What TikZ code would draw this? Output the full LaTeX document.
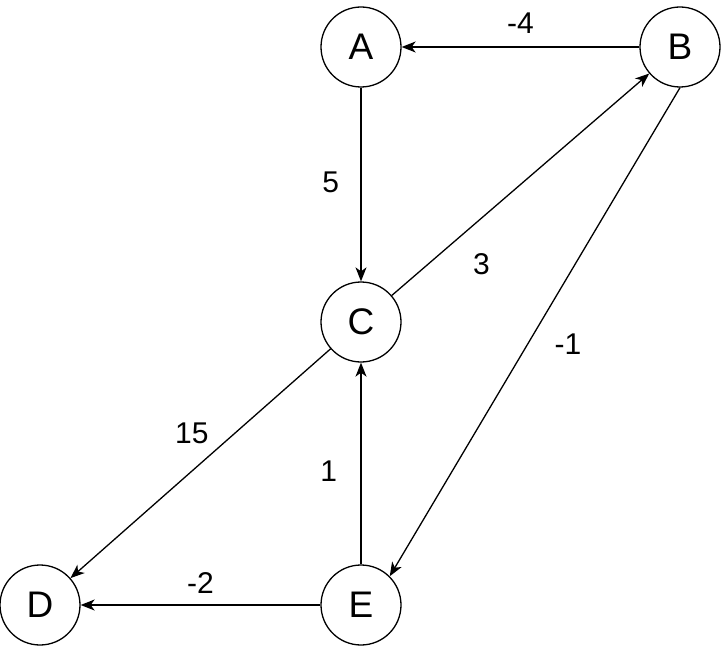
\documentclass[tikz,border=0pt]{standalone}
\usepackage{fontspec}
\setmainfont{Liberation Sans}
\usetikzlibrary{arrows.meta,positioning}
\begin{document}
\begin{tikzpicture}[x=1pt,y=-1pt,line width=1.3pt,line join=round,>={Stealth[length=14pt,width=11pt,inset=4pt]},
	vertex/.style={draw,circle,minimum size=80pt,inner sep=0pt,font=\fontsize{37}{39}\selectfont},
	weight/.style={font=\fontsize{30}{32}\selectfont}]
	\useasboundingbox (0,0) rectangle (722,647);
	
	\node[vertex] (A) at (361,47) {A};
	\node[vertex] (B) at (680,47) {B};
	\node[vertex] (C) at (361,322) {C};
	\node[vertex] (D) at (40,605) {D};
	\node[vertex] (E) at (361,605) {E};
	
	\draw[->] (B) -- node[weight,above=10pt] {-4} (A);
	\draw[->] (A) -- node[weight,left=18pt,pos=0.49] {5} (C);
	\draw[->] (C) -- node[weight,below right=10pt and 13pt,pos=0.25] {3} (B);
	\draw[->] (B.south) -- node[weight,right=23pt,pos=0.525] {-1} (E.45);
	\draw[->] (C) -- node[weight,above left=4pt and 1pt,pos=0.45] {15} (D);
	\draw[->] (E) -- node[weight,left=20pt,pos=0.46] {1} (C);
	\draw[->] (E) -- node[weight,above=8pt] {-2} (D);
\end{tikzpicture}
\end{document}
